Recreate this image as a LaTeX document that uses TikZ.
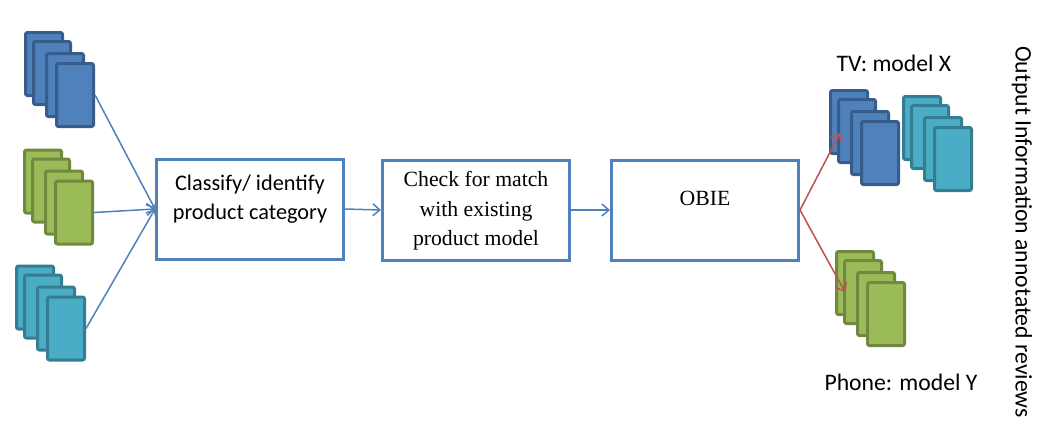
\documentclass[tikz,border=0pt]{standalone}
\usepackage{fontspec}
\setmainfont{Carlito}
\newfontfamily\timesfont{Liberation Serif}
\usetikzlibrary{arrows.meta,calc}
\definecolor{dblue}{HTML}{4F81BD}
\definecolor{dblueb}{HTML}{385D8A}
\definecolor{dgreen}{HTML}{9BBB59}
\definecolor{dgreenb}{HTML}{71893F}
\definecolor{dcyan}{HTML}{4BACC6}
\definecolor{dcyanb}{HTML}{357D91}
\definecolor{dred}{HTML}{C0504D}
\tikzset{
  docrect/.style={draw, line width=3pt, rounded corners=2pt, minimum width=37pt, minimum height=63pt, inner sep=0pt},
  procbox/.style={draw=dblue, line width=3pt, fill=white, minimum width=187pt, minimum height=100pt, inner sep=0pt},
  boxtext/.style={align=center, inner sep=0pt},
  flow/.style={draw=dblue, line width=1.5pt, -{Straight Barb[length=7pt,width=12pt,line width=1.5pt]}},
  outflow/.style={draw=dred, line width=1.5pt, -{Straight Barb[length=7pt,width=12pt,line width=1.5pt]}},
  lbl/.style={inner sep=0pt, font=\fontsize{23.7}{28}\selectfont}
}
\newcommand\docstack[5]{%
  \node[docrect, fill=#4, draw=#5] (#1a) at (#2,#3) {};
  \node[docrect, fill=#4, draw=#5] (#1b) at ($(#2,#3)+(8,9)$) {};
  \node[docrect, fill=#4, draw=#5] (#1c) at ($(#2,#3)+(21,21)$) {};
  \node[docrect, fill=#4, draw=#5] (#1d) at ($(#2,#3)+(31,31)$) {};
}
\begin{document}
\begin{tikzpicture}[x=1pt,y=-1pt]
\useasboundingbox (0,0) rectangle (1057,445);
% input stacks
\docstack{inb}{44}{64}{dblue}{dblueb}
\docstack{ing}{43}{181.5}{dgreen}{dgreenb}
\docstack{inc}{35}{297.5}{dcyan}{dcyanb}
% output stacks
\docstack{outb}{849}{122}{dblue}{dblueb}
\docstack{outc}{922}{128}{dcyan}{dcyanb}
\docstack{outg}{855}{283}{dgreen}{dgreenb}
% process boxes
\node[procbox] (box1) at (250,209) {};
\node[procbox] (box2) at (476,210) {};
\node[procbox] (box3) at (705,210) {};
\node[boxtext, font=\fontsize{22.3}{29}\selectfont] (t1) at (250,199) {Classify/ identify\\product category};
\node[boxtext, font=\timesfont\fontsize{21.7}{29.5}\selectfont] (t2) at (476,211) {Check for match\\with existing\\product model};
\node[boxtext, font=\timesfont\fontsize{21.7}{29.5}\selectfont] (t3) at (705,198) {OBIE};
% labels
\node[lbl] (tv) at (894,63) {TV: model X};
\node[lbl] (ph) at (901,382) {Phone: model Y};
\node[lbl, rotate=-90] (out) at (1022,232) {Output Information annotated reviews};
% connectors
\draw[flow] (inbd.east) -- (box1.west);
\draw[flow] (ingd.east) -- (box1.west);
\draw[flow] (incd.east) -- (box1.west);
\draw[flow] (box1.east) -- (box2.west);
\draw[flow] (box2.east) -- (box3.west);
\coordinate (tvend) at (840,133);
\coordinate (phend) at (845,292);
\draw[outflow] (box3.east) -- (tvend);
\draw[outflow] (box3.east) -- (phend);
\end{tikzpicture}
\end{document}
